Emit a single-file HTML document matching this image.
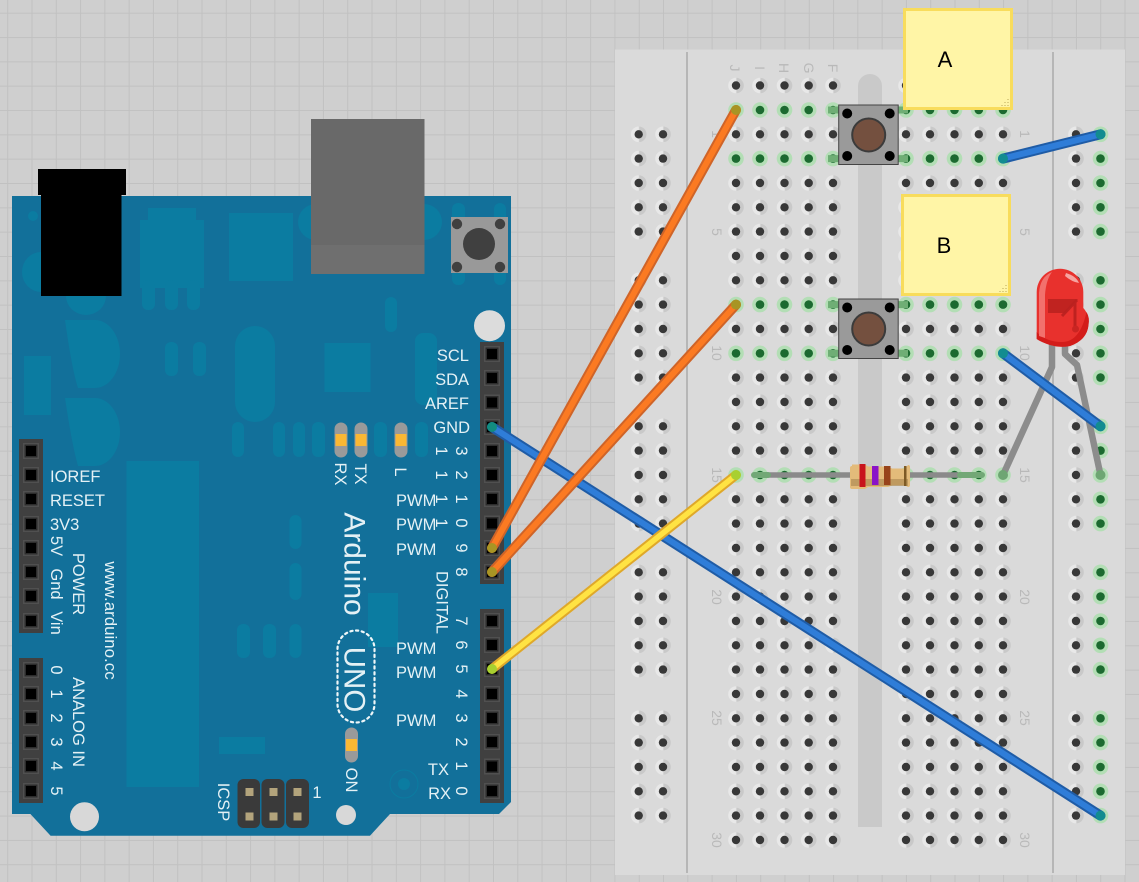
<!DOCTYPE html>
<html><head><meta charset="utf-8"><style>
html,body{margin:0;padding:0;background:#cfcfcf}
svg{display:block;filter:blur(.35px)}
text{font-family:"Liberation Sans",sans-serif}
.w text,.w{fill:#e4f1f5;font-size:16.5px}
.b text{fill:#b9b9b9;font-size:14px;text-anchor:middle}
.f{fill:#0b7ca1}
</style></head><body>
<svg width="1139" height="882" viewBox="0 0 1139 882" xmlns="http://www.w3.org/2000/svg">
<defs>
<pattern id="grid" patternUnits="userSpaceOnUse" x="7.2" y="12.7" width="24.29" height="24.33"><path d="M0 .5H24.29M.5 0V24.33" stroke="#c1c1c1" stroke-width="1" fill="none"/></pattern>
<linearGradient id="hg" x1="0" y1="0" x2="1" y2="0"><stop offset="0.48" stop-color="#e8e8e8"/><stop offset="0.56" stop-color="#c9c9c9"/></linearGradient>
<g id="h"><circle r="7.8" fill="url(#hg)"/><circle r="4.2" fill="#383838"/></g>
<g id="g"><circle r="7.8" fill="#b3deb5"/><circle r="4.3" fill="#1c6a30"/></g>
<g id="mr"><use href="#h" x="736"/><use href="#h" x="760"/><use href="#h" x="784.5"/><use href="#h" x="808.7"/><use href="#h" x="833"/><use href="#h" x="906"/><use href="#h" x="930"/><use href="#h" x="954.5"/><use href="#h" x="978.8"/><use href="#h" x="1003"/></g>
<g id="gr"><use href="#g" x="736"/><use href="#g" x="760"/><use href="#g" x="784.5"/><use href="#g" x="808.7"/><use href="#g" x="833"/><use href="#g" x="906"/><use href="#g" x="930"/><use href="#g" x="954.5"/><use href="#g" x="978.8"/><use href="#g" x="1003"/></g>
<g id="rr"><use href="#h" x="638.7"/><use href="#h" x="663"/><use href="#h" x="1076"/><use href="#g" x="1100.5"/></g>
<g id="p"><rect x="-8" y="-8" width="16" height="16" fill="#505050"/><rect x="-6.5" y="-6.5" width="13" height="13" fill="#2c2c2c"/><rect x="-5" y="-5" width="10" height="10" fill="#000"/></g>
<g id="sw"><rect x="0" y="0" width="59.5" height="59.5" fill="#9a9a9a" stroke="#444" stroke-width="1"/><circle cx="30" cy="30" r="16.5" fill="#74503f" stroke="#3b3b3b" stroke-width="2"/><circle cx="8.5" cy="8.5" r="5" fill="#000"/><circle cx="51" cy="8.5" r="5" fill="#000"/><circle cx="8.5" cy="51" r="5" fill="#000"/><circle cx="51" cy="51" r="5" fill="#000"/></g>
<g id="cap"><rect x="-6.5" y="-17.5" width="13" height="35" rx="6.5" fill="#9a9a9a"/><rect x="-5.5" y="-6" width="11" height="12" fill="#fab834"/></g>
</defs>

<rect width="1139" height="882" fill="#cfcfcf"/>
<rect width="1139" height="882" fill="url(#grid)"/>

<!-- breadboard -->
<rect x="615" y="49.5" width="510" height="825.5" fill="#dadada"/>
<path d="M687 52V873M1053 52V873" stroke="#a9a9a9" stroke-width="1.5"/>
<path d="M858 827V86a12 12 0 0 1 24 0V827Z" fill="#c9c9c9"/>
<g class="b">
<text transform="translate(735,68) rotate(90)" dy=".35em">J</text>
<text transform="translate(760,68) rotate(90)" dy=".35em">I</text>
<text transform="translate(784,68) rotate(90)" dy=".35em">H</text>
<text transform="translate(809,68) rotate(90)" dy=".35em">G</text>
<text transform="translate(833,68) rotate(90)" dy=".35em">F</text>
<text transform="translate(717,134) rotate(90)" dy=".35em">1</text>
<text transform="translate(717,232) rotate(90)" dy=".35em">5</text>
<text transform="translate(717,353) rotate(90)" dy=".35em">10</text>
<text transform="translate(717,475) rotate(90)" dy=".35em">15</text>
<text transform="translate(717,597) rotate(90)" dy=".35em">20</text>
<text transform="translate(717,718) rotate(90)" dy=".35em">25</text>
<text transform="translate(717,840) rotate(90)" dy=".35em">30</text>
<text transform="translate(1025,134) rotate(90)" dy=".35em">1</text>
<text transform="translate(1025,232) rotate(90)" dy=".35em">5</text>
<text transform="translate(1025,353) rotate(90)" dy=".35em">10</text>
<text transform="translate(1025,475) rotate(90)" dy=".35em">15</text>
<text transform="translate(1025,597) rotate(90)" dy=".35em">20</text>
<text transform="translate(1025,718) rotate(90)" dy=".35em">25</text>
<text transform="translate(1025,840) rotate(90)" dy=".35em">30</text>
</g>
<!-- main rows -->
<use href="#mr" y="85.5"/><use href="#gr" y="110"/><use href="#mr" y="134.3"/><use href="#gr" y="158.6"/><use href="#mr" y="183"/><use href="#mr" y="207.3"/><use href="#mr" y="231.6"/><use href="#mr" y="256"/><use href="#mr" y="280.3"/><use href="#gr" y="304.6"/><use href="#mr" y="329"/><use href="#gr" y="353.3"/><use href="#mr" y="377.6"/><use href="#mr" y="402"/><use href="#mr" y="426.3"/><use href="#mr" y="450.6"/><use href="#gr" y="475"/><use href="#mr" y="499.3"/><use href="#mr" y="523.6"/><use href="#mr" y="548"/><use href="#mr" y="572.3"/><use href="#mr" y="596.6"/><use href="#mr" y="621"/><use href="#mr" y="645.3"/><use href="#mr" y="669.6"/><use href="#mr" y="694"/><use href="#mr" y="718.3"/><use href="#mr" y="742.6"/><use href="#mr" y="767"/><use href="#mr" y="791.3"/><use href="#mr" y="815.6"/><use href="#mr" y="840"/>
<!-- rails -->
<use href="#rr" y="134.3"/><use href="#rr" y="158.6"/><use href="#rr" y="183"/><use href="#rr" y="207.3"/><use href="#rr" y="231.6"/>
<use href="#rr" y="280.3"/><use href="#rr" y="304.6"/><use href="#rr" y="329"/><use href="#rr" y="353.3"/><use href="#rr" y="377.6"/>
<use href="#rr" y="426.3"/><use href="#rr" y="450.6"/><use href="#rr" y="475"/><use href="#rr" y="499.3"/><use href="#rr" y="523.6"/>
<use href="#rr" y="572.3"/><use href="#rr" y="596.6"/><use href="#rr" y="621"/><use href="#rr" y="645.3"/><use href="#rr" y="669.6"/>
<use href="#rr" y="718.3"/><use href="#rr" y="742.6"/><use href="#rr" y="767"/><use href="#rr" y="791.3"/><use href="#rr" y="815.6"/>

<!-- switch legs + switches -->
<path d="M828 110H908M828 158.6H908M828 304.6H908M828 353.3H908" stroke="#6fae75" stroke-width="7"/>
<use href="#sw" x="838.7" y="105"/>
<use href="#sw" x="838.7" y="299"/>

<!-- resistor -->
<path d="M760 475H980" stroke="#8a8a8a" stroke-width="5.5"/>
<path d="M754 475H768M960 475H982" stroke="#72a876" stroke-width="6" stroke-linecap="round"/>
<path d="M852 464.5h13l3 2h20l4 2h13l3-3.5q2 0 2 2v18q0 2-2 2l-3-1.5h-13l-4 1.5h-20l-3 2h-13q-2 0-2-2v-19q0-2 2-2Z" fill="#e3bb7a"/>
<rect x="851" y="479" width="57" height="7" fill="#8a6a3a" opacity=".4"/>
<rect x="859.5" y="464" width="6" height="23" fill="#c8141c"/>
<rect x="872" y="466" width="6.5" height="19" fill="#8a12c8"/>
<rect x="884" y="466" width="6.5" height="19" fill="#97431a"/>
<rect x="904" y="466" width="2.5" height="20" fill="#7d5a25"/>

<!-- notes -->
<rect x="904.5" y="9.5" width="107" height="99" fill="#fff5a6" stroke="#f8dc5c" stroke-width="3"/>
<text x="945" y="67" font-size="22" fill="#000" text-anchor="middle">A</text>
<rect x="902.5" y="195.5" width="107" height="99" fill="#fff5a6" stroke="#f8dc5c" stroke-width="3"/>
<text x="944" y="253" font-size="22" fill="#000" text-anchor="middle">B</text>
<path d="M1008 99v1M1005 102v1M1008 102v1M1002 105v1M1005 105v1M1008 105v1M1006 285v1M1003 288v1M1006 288v1M1000 291v1M1003 291v1M1006 291v1" stroke="#b8a85a" stroke-width="1"/>

<!-- arduino -->
<path d="M12 196H511V802L499 814H390L370 835.7H50.6L30.4 814H12Z" fill="#12709a"/>
<g class="f">
<circle cx="33" cy="216" r="5"/>
<ellipse cx="41" cy="272" rx="19" ry="20"/><ellipse cx="86" cy="296" rx="20" ry="19"/>
<circle cx="316" cy="222" r="18"/><circle cx="424" cy="222" r="18"/>
<rect x="452" y="203" width="13" height="82" rx="6"/><rect x="494" y="203" width="12" height="82" rx="6"/>
<rect x="148" y="208" width="48" height="14"/><rect x="140" y="220" width="64" height="68"/>
<rect x="142" y="280" width="13" height="30" rx="6"/><rect x="165" y="280" width="13" height="30" rx="6"/><rect x="187" y="280" width="13" height="30" rx="6"/>
<rect x="229" y="213" width="64" height="68"/>
<rect x="385" y="297" width="12" height="35" rx="6"/>
<rect x="415" y="333" width="22" height="72" rx="8"/>
<rect x="324.5" y="343" width="46" height="49"/>
<rect x="235" y="326" width="40" height="96" rx="20"/>
<path d="M65 320H95a25 34 0 0 1 0 68H78Q72 370 65 320Z"/>
<path d="M65 398H95a25 34 0 0 1 0 68H78Q72 445 65 398Z"/>
<rect x="24" y="356" width="27" height="59"/>
<rect x="165" y="342" width="13" height="34" rx="6"/><rect x="193" y="342" width="13" height="34" rx="6"/>
<rect x="232" y="422" width="12" height="35" rx="6"/><rect x="273" y="422" width="12" height="35" rx="6"/><rect x="293" y="422" width="12" height="35" rx="6"/><rect x="312" y="422" width="13" height="35" rx="6"/><rect x="374" y="422" width="13" height="35" rx="6"/><rect x="415" y="422" width="13" height="35" rx="6"/>
<rect x="126.5" y="461" width="72.5" height="326"/>
<rect x="289.5" y="515" width="12" height="34" rx="6"/><rect x="289.5" y="563" width="12" height="37" rx="6"/><rect x="289.5" y="624" width="12" height="34" rx="6"/><rect x="237" y="624" width="13" height="34" rx="6"/><rect x="263" y="624" width="13" height="34" rx="6"/>
<rect x="219" y="737" width="46" height="17"/><rect x="368" y="593" width="30" height="54"/>
<circle cx="404" cy="784" r="6"/>
</g>
<circle cx="404" cy="784" r="14" fill="none" stroke="#0b7ca1" stroke-width="1"/>
<path d="M38 169H126V195H121.5V296H41V195H38Z" fill="#000"/>
<rect x="311" y="119" width="113.5" height="155" fill="#696969"/>
<rect x="311" y="245" width="113.5" height="29" fill="#6f6f6f"/>
<rect x="451" y="217" width="57" height="56" fill="#999"/>
<circle cx="479" cy="244" r="16" fill="#404040"/>
<circle cx="457" cy="224" r="5.2" fill="#404040"/><circle cx="500" cy="224" r="5.2" fill="#404040"/><circle cx="457" cy="267" r="5.2" fill="#404040"/><circle cx="500" cy="267" r="5.2" fill="#404040"/>
<circle cx="489.5" cy="325.7" r="15.5" fill="#dcdcdc"/>
<circle cx="84.5" cy="816.7" r="14.5" fill="#d8d8d8"/>
<circle cx="346" cy="815" r="10" fill="#d8d8d8"/>

<!-- headers -->
<rect x="480" y="342" width="24" height="242" fill="#404040"/>
<rect x="480" y="609" width="24" height="194" fill="#404040"/>
<rect x="19" y="439" width="24" height="194" fill="#404040"/>
<rect x="19" y="658" width="24" height="145" fill="#404040"/>
<use href="#p" x="492" y="354"/><use href="#p" x="492" y="378"/><use href="#p" x="492" y="402.5"/><use href="#p" x="492" y="427"/><use href="#p" x="492" y="451"/><use href="#p" x="492" y="475"/><use href="#p" x="492" y="499"/><use href="#p" x="492" y="523.5"/><use href="#p" x="492" y="548"/><use href="#p" x="492" y="572"/>
<use href="#p" x="492" y="621"/><use href="#p" x="492" y="645"/><use href="#p" x="492" y="669"/><use href="#p" x="492" y="694"/><use href="#p" x="492" y="718"/><use href="#p" x="492" y="742"/><use href="#p" x="492" y="766.5"/><use href="#p" x="492" y="791"/>
<use href="#p" x="31" y="451"/><use href="#p" x="31" y="475"/><use href="#p" x="31" y="499"/><use href="#p" x="31" y="524"/><use href="#p" x="31" y="548"/><use href="#p" x="31" y="572"/><use href="#p" x="31" y="596"/><use href="#p" x="31" y="621"/>
<use href="#p" x="31" y="670"/><use href="#p" x="31" y="694"/><use href="#p" x="31" y="718"/><use href="#p" x="31" y="742"/><use href="#p" x="31" y="766"/><use href="#p" x="31" y="791"/>

<!-- ICSP -->
<rect x="237.5" y="779" width="22.5" height="49" rx="6" fill="#3a3a3a"/><rect x="261.5" y="779" width="23" height="49" rx="6" fill="#3a3a3a"/><rect x="286" y="779" width="23" height="49" rx="6" fill="#3a3a3a"/>
<g fill="#b3a47c"><rect x="245.5" y="788" width="8" height="8"/><rect x="269.5" y="788" width="8" height="8"/><rect x="293.5" y="788" width="8" height="8"/><rect x="245.5" y="812.5" width="8" height="8"/><rect x="269.5" y="812.5" width="8" height="8"/><rect x="293.5" y="812.5" width="8" height="8"/></g>

<!-- LEDs -->
<use href="#cap" x="341" y="440"/><use href="#cap" x="361" y="440"/><use href="#cap" x="401" y="440"/><use href="#cap" x="351.5" y="745"/>

<!-- labels -->
<g class="w">
<text x="469" y="361" text-anchor="end">SCL</text>
<text x="469" y="385" text-anchor="end">SDA</text>
<text x="469" y="409" text-anchor="end">AREF</text>
<text x="470" y="433" text-anchor="end">GND</text>
<text x="396" y="506">PWM</text><text x="396" y="530">PWM</text><text x="396" y="555">PWM</text><text x="396" y="654">PWM</text><text x="396" y="678">PWM</text><text x="396" y="726">PWM</text>
<text x="449" y="775" text-anchor="end">TX</text><text x="451" y="799" text-anchor="end">RX</text>
<text x="50" y="482">IOREF</text><text x="50" y="506">RESET</text><text x="50" y="530">3V3</text>
<g text-anchor="middle">
<text transform="translate(442,451) rotate(90)" dy=".35em">1</text><text transform="translate(442,475) rotate(90)" dy=".35em">1</text><text transform="translate(442,499) rotate(90)" dy=".35em">1</text><text transform="translate(442,523) rotate(90)" dy=".35em">1</text>
<text transform="translate(462,451) rotate(90)" dy=".35em">3</text><text transform="translate(462,475) rotate(90)" dy=".35em">2</text><text transform="translate(462,499) rotate(90)" dy=".35em">1</text><text transform="translate(462,523) rotate(90)" dy=".35em">0</text><text transform="translate(462,548) rotate(90)" dy=".35em">9</text><text transform="translate(462,572) rotate(90)" dy=".35em">8</text>
<text transform="translate(462,621) rotate(90)" dy=".35em">7</text><text transform="translate(462,645) rotate(90)" dy=".35em">6</text><text transform="translate(462,669) rotate(90)" dy=".35em">5</text><text transform="translate(462,694) rotate(90)" dy=".35em">4</text><text transform="translate(462,718) rotate(90)" dy=".35em">3</text><text transform="translate(462,742) rotate(90)" dy=".35em">2</text><text transform="translate(462,766) rotate(90)" dy=".35em">1</text><text transform="translate(462,791) rotate(90)" dy=".35em">0</text>
<text transform="translate(57,670) rotate(90)" dy=".35em">0</text><text transform="translate(57,694) rotate(90)" dy=".35em">1</text><text transform="translate(57,718) rotate(90)" dy=".35em">2</text><text transform="translate(57,742) rotate(90)" dy=".35em">3</text><text transform="translate(57,766) rotate(90)" dy=".35em">4</text><text transform="translate(57,791) rotate(90)" dy=".35em">5</text>
<text transform="translate(57,546) rotate(90)" dy=".35em">5V</text><text transform="translate(57,584) rotate(90)" dy=".35em">Gnd</text><text transform="translate(57,623) rotate(90)" dy=".35em">Vin</text>
<text transform="translate(79,584) rotate(90)" dy=".35em">POWER</text>
<text transform="translate(79,722) rotate(90)" dy=".35em">ANALOG IN</text>
<text transform="translate(111,620.5) rotate(90)" dy=".35em" style="font-size:16.9px">www.arduino.cc</text>
<text transform="translate(224,802) rotate(90)" dy=".35em">ICSP</text>
<text transform="translate(341,474) rotate(90)" dy=".35em">RX</text>
<text transform="translate(361,474) rotate(90)" dy=".35em">TX</text>
<text transform="translate(401,472) rotate(90)" dy=".35em">L</text>
<text transform="translate(352,780) rotate(90)" dy=".35em">ON</text>
<text transform="translate(442.5,602.5) rotate(90)" dy=".35em">DIGITAL</text>
<text transform="translate(355,564) rotate(90)" dy=".35em" style="font-size:30px">Arduino</text>
<text transform="translate(355,679.5) rotate(90)" dy=".35em" style="font-size:29.5px">UNO</text>
<text x="317" y="798">1</text>
</g>
</g>
<rect x="337.5" y="630.5" width="37" height="92" rx="18.5" fill="none" stroke="#eef6f8" stroke-width="2.2" stroke-dasharray="2.2 3.6" stroke-linecap="round"/>

<!-- LED on breadboard -->
<path d="M1052 340V367L1003 475" fill="none" stroke="#8c8c8c" stroke-width="6.5" stroke-linejoin="round"/>
<path d="M1065 340V354L1077 365L1100.5 475" fill="none" stroke="#8c8c8c" stroke-width="6.5" stroke-linejoin="round"/>
<circle cx="1003" cy="475" r="5" fill="#6ea673"/><circle cx="1100.5" cy="475" r="5" fill="#6ea673"/>
<path d="M1036.7 339V292a23.3 23.3 0 0 1 46.6 0V308Q1089 314 1088.5 325Q1087 340 1070 346Q1060 348 1050 345Q1041 342 1036.7 339Z" fill="#e8312d"/>
<path d="M1036.7 332Q1046 342 1062 342Q1080 342 1086.5 312Q1090 318 1088.5 325Q1087 340 1070 346Q1060 348 1050 345Q1041 342 1036.7 339Z" fill="#d31c1a"/>
<path d="M1048 299H1078L1065 313H1048Z" fill="#b9211f" opacity=".85"/>
<path d="M1077 300L1062 316M1075 302V328" stroke="#b9211f" stroke-width="3" fill="none" opacity=".9"/>
<circle cx="1075.5" cy="329" r="3.5" fill="#c92522"/>
<path d="M1039 336V293Q1040 277 1052 272Q1046 280 1045 295V338Z" fill="#f2716d"/>
<path d="M1066 273Q1076 276 1079 283Q1072 282 1065 276Z" fill="#f6a3a0"/>

<!-- wires -->
<g fill="none" stroke-linecap="round">
<path d="M492 427L1100.5 815.6M1003 353.3L1100.5 426.3M1003 158.6L1100.5 134.3" stroke="#1f5ca6" stroke-width="10"/>
<path d="M492 427L1100.5 815.6M1003 353.3L1100.5 426.3M1003 158.6L1100.5 134.3" stroke="#2f7dd8" stroke-width="6"/>
<path d="M736 110L492 548M736 304.6L492 572" stroke="#cf6428" stroke-width="10"/>
<path d="M736 110L492 548M736 304.6L492 572" stroke="#fb7a22" stroke-width="6"/>
<path d="M736 475L492 669" stroke="#dfa82a" stroke-width="9.5"/>
<path d="M736 475L492 669" stroke="#ffe343" stroke-width="5.5"/>
</g>
<circle cx="1003" cy="158.6" r="5" fill="#128c90"/><circle cx="1100.5" cy="134.3" r="5" fill="#128c90"/><circle cx="1003" cy="353.3" r="5" fill="#128c90"/><circle cx="1100.5" cy="426.3" r="5" fill="#128c90"/><circle cx="1100.5" cy="815.6" r="5" fill="#128c90"/><circle cx="492" cy="427" r="5" fill="#128c80"/>
<circle cx="736" cy="110" r="5" fill="#a89524"/><circle cx="736" cy="304.6" r="5" fill="#a89524"/><circle cx="492" cy="548" r="5" fill="#a89524"/><circle cx="492" cy="572" r="5" fill="#a89524"/>
<circle cx="736" cy="475" r="5" fill="#a8d030"/><circle cx="492" cy="669" r="5" fill="#a8d030"/>
</svg>
</body></html>
